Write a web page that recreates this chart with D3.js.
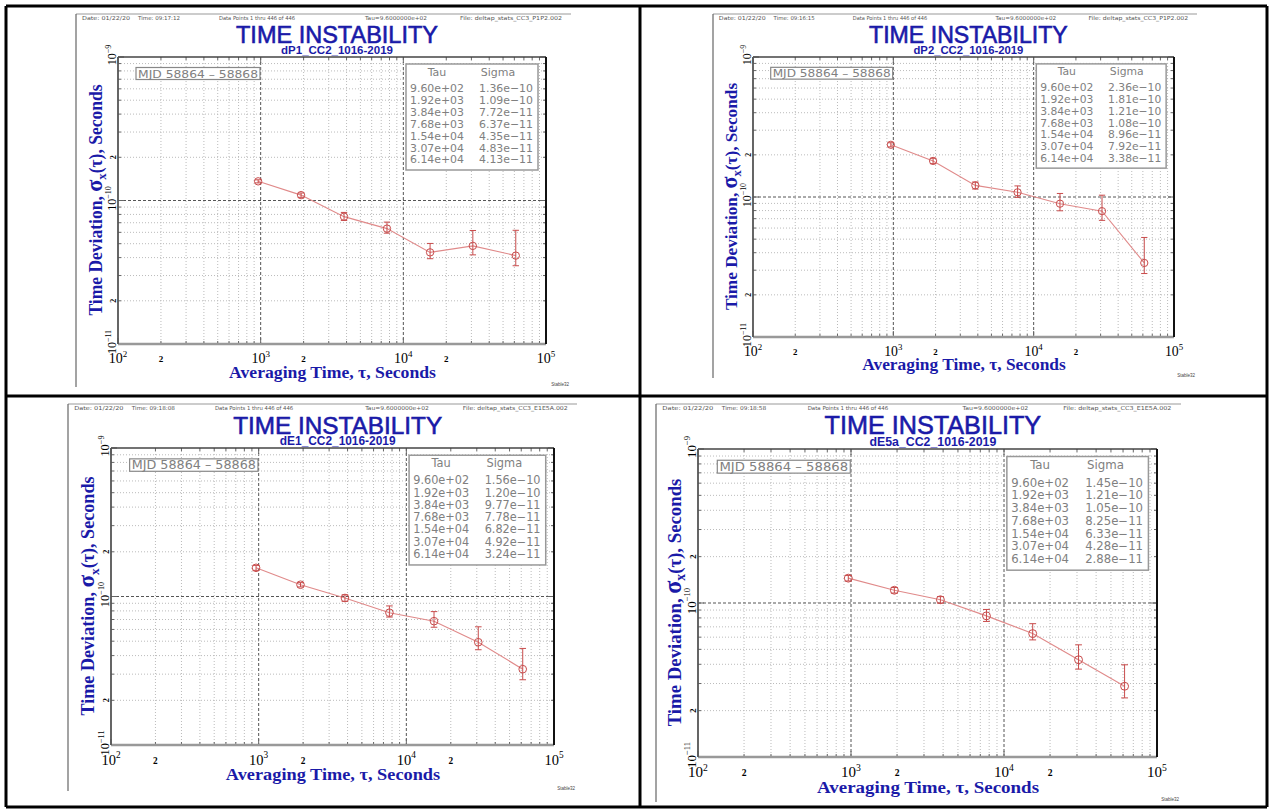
<!DOCTYPE html>
<html>
<head>
<meta charset="utf-8">
<script src="https://cdn.jsdelivr.net/npm/d3@7"></script>
<style>
  body { margin: 0; background: #fff; }
  svg { display: block; }
</style>
</head>
<body>
<svg id="chart" width="1272" height="809"></svg>
<script>
// averaging times, same for all four runs
var tau = [960, 1920, 3840, 7680, 15400, 30700, 61400];

var sigmaP1 = [1.36e-10, 1.09e-10, 7.72e-11, 6.37e-11, 4.35e-11, 4.83e-11, 4.13e-11];
var hiP1    = [1.394e-10, 1.128e-10, 8.26e-11, 7.07e-11, 5.02e-11, 6.18e-11, 6.20e-11];
var loP1    = [1.326e-10, 1.052e-10, 7.26e-11, 5.92e-11, 3.93e-11, 4.18e-11, 3.51e-11];

var sigmaP2 = [2.36e-10, 1.81e-10, 1.21e-10, 1.08e-10, 8.96e-11, 7.92e-11, 3.38e-11];
var hiP2    = [2.44e-10, 1.89e-10, 1.28e-10, 1.20e-10, 1.06e-10, 1.03e-10, 5.14e-11];
var loP2    = [2.28e-10, 1.73e-10, 1.14e-10, 9.94e-11, 7.97e-11, 6.81e-11, 2.84e-11];

var sigmaE1 = [1.56e-10, 1.20e-10, 9.77e-11, 7.78e-11, 6.82e-11, 4.92e-11, 3.24e-11];
var hiE1    = [1.62e-10, 1.24e-10, 1.026e-10, 8.64e-11, 7.91e-11, 6.25e-11, 4.47e-11];
var loE1    = [1.50e-10, 1.16e-10, 9.28e-11, 7.27e-11, 6.21e-11, 4.38e-11, 2.75e-11];

var sigmaE5 = [1.45e-10, 1.21e-10, 1.05e-10, 8.25e-11, 6.33e-11, 4.28e-11, 2.88e-11];
var hiE5    = [1.51e-10, 1.26e-10, 1.10e-10, 9.08e-11, 7.34e-11, 5.35e-11, 3.97e-11];
var loE5    = [1.39e-10, 1.16e-10, 9.98e-11, 7.59e-11, 5.76e-11, 3.72e-11, 2.42e-11];

var names = ['dP1_CC2_1016-2019', 'dP2_CC2_1016-2019', 'dE1_CC2_1016-2019', 'dE5a_CC2_1016-2019'];
var times = ['09:17:12', '09:16:15', '09:18:08', '09:18:58'];
var files = ['deltap_stats_CC3_P1P2.002', 'deltap_stats_CC3_P1P2.002', 'deltap_stats_CC3_E1E5A.002', 'deltap_stats_CC3_E1E5A.002'];

var xTickVals = [1e2, 2e2, 1e3, 2e3, 1e4, 2e4, 1e5];
var xTickText = ['10^2', '2', '10^3', '2', '10^4', '2', '10^5'];
var yTickVals = [1e-11, 2e-11, 1e-10, 2e-10, 1e-9];
var yTickText = ['10^-11', '2', '10^-10', '2', '10^-9'];

var mjdText = 'MJD 58864 \u2013 58868';

var blue = '#1a1aa8';
var red = '#c84c4c';
var serif = '"Liberation Serif", "Times New Roman", serif';
var sans = '"Liberation Sans", Arial, sans-serif';
var mono = '"DejaVu Sans", sans-serif';

// frame geometry of each screenshot in the grid
var panels = [
  { sigma: sigmaP1, hi: hiP1, lo: loP1, L: 118, R: 546, T: 57, B: 344, gx: 76, gy: 14, gr: 571, gb: 387 },
  { sigma: sigmaP2, hi: hiP2, lo: loP2, L: 753, R: 1174, T: 57, B: 337, gx: 713, gy: 14, gr: 1197, gb: 378 },
  { sigma: sigmaE1, hi: hiE1, lo: loE1, L: 111, R: 554, T: 448, B: 745, gx: 68, gy: 404, gr: 577, gb: 791 },
  { sigma: sigmaE5, hi: hiE5, lo: loE5, L: 698, R: 1157, T: 449, B: 757, gx: 656, gy: 404, gr: 1181, gb: 802 }
];

var svg = d3.select('#chart');

function isDecade(v) {
  var l = Math.log10(v);
  return Math.abs(l - Math.round(l)) < 1e-6;
}

function fmt(v) {
  return v.toExponential(2).replace(/e\+(\d)$/, 'e+0$1').replace(/e-(\d)$/, 'e-0$1').replace('-', '\u2212');
}

function powerLabel(sel, str, supSize, supDy) {
  var parts = str.split('^');
  sel.append('tspan').text(parts[0]);
  if (parts.length > 1) {
    sel.append('tspan')
      .attr('dy', supDy)
      .style('font-size', supSize + 'px')
      .text(parts[1].replace('-', '\u2212'));
  }
}

function drawPanel(p, i) {
  var k = (p.R - p.L) / 428;
  var x = d3.scaleLog().domain([1e2, 1e5]).range([p.L, p.R]);
  var y = d3.scaleLog().domain([1e-11, 1e-9]).range([p.B, p.T]);
  var g = svg.append('g');
  var W = p.gr - p.gx;
  var hk = W / 495;

  // page edges of the screenshot
  g.append('line')
    .attr('x1', p.gx).attr('x2', p.gr).attr('y1', p.gy).attr('y2', p.gy)
    .attr('stroke', '#999').attr('stroke-width', 1);
  g.append('line')
    .attr('x1', p.gx).attr('x2', p.gx).attr('y1', p.gy).attr('y2', p.gb)
    .attr('stroke', '#666').attr('stroke-width', 1.2);

  // header line: text, offset, width
  var head = [
    ['Date: 01/22/20', 6, 48],
    ['Time: ' + times[i], 62, 42],
    ['Data Points 1 thru 446 of 446', 143, 76],
    ['Tau=9.6000000e+02', 289, 62],
    ['File: ' + files[i], 384, 102]
  ];
  head.forEach(function(h) {
    g.append('text')
      .attr('x', p.gx + h[1] * hk)
      .attr('y', p.gy + 6)
      .attr('textLength', h[2] * hk).attr('lengthAdjust', 'spacingAndGlyphs')
      .style('font-family', mono)
      .style('font-size', '5.5px')
      .attr('fill', '#555')
      .text(h[0]);
  });

  g.append('text')
    .attr('x', p.gr - 2).attr('y', p.gb - 1)
    .attr('text-anchor', 'end')
    .style('font-family', sans).style('font-size', '4.5px')
    .attr('fill', '#444')
    .text('Stable32');

  // titles
  var cx = (p.L + p.R) / 2 + 5 * k;
  g.append('text')
    .attr('x', cx - 101 * k).attr('y', p.T - 14 * k)
    .attr('textLength', 202 * k).attr('lengthAdjust', 'spacingAndGlyphs')
    .style('font-family', sans).style('font-size', (24 * k) + 'px')
    .attr('fill', blue).attr('stroke', blue).attr('stroke-width', 0.6)
    .text('TIME INSTABILITY');
  g.append('text')
    .attr('x', cx).attr('y', p.T - 3 * k)
    .attr('text-anchor', 'middle')
    .style('font-family', sans).style('font-weight', 'bold').style('font-size', (11.5 * k) + 'px')
    .attr('fill', blue)
    .text(names[i]);

  // grid
  var xt = x.ticks();
  var yt = y.ticks();
  xt.forEach(function(v) {
    if (v <= 1e2 || v >= 1e5) return;
    var major = isDecade(v);
    g.append('line')
      .attr('x1', x(v)).attr('x2', x(v)).attr('y1', p.T).attr('y2', p.B)
      .attr('stroke', major ? '#555' : '#bbb')
      .attr('stroke-width', 1)
      .attr('stroke-dasharray', major ? '3,2' : '1,2');
  });
  yt.forEach(function(v) {
    if (v <= 1e-11 * 1.0001 || v >= 1e-9 * 0.9999) return;
    var major = isDecade(v);
    g.append('line')
      .attr('x1', p.L).attr('x2', p.R).attr('y1', y(v)).attr('y2', y(v))
      .attr('stroke', major ? '#555' : '#bbb')
      .attr('stroke-width', 1)
      .attr('stroke-dasharray', major ? '3,2' : '1,2');
  });

  // tick marks on the frame
  xt.forEach(function(v) {
    var len = isDecade(v) ? 6 : 3;
    g.append('line').attr('x1', x(v)).attr('x2', x(v)).attr('y1', p.B).attr('y2', p.B - len)
      .attr('stroke', '#666').attr('stroke-width', 1);
    g.append('line').attr('x1', x(v)).attr('x2', x(v)).attr('y1', p.T).attr('y2', p.T + len)
      .attr('stroke', '#666').attr('stroke-width', 1);
  });
  yt.forEach(function(v) {
    var len = isDecade(v) ? 6 : 3;
    g.append('line').attr('x1', p.L).attr('x2', p.L + len).attr('y1', y(v)).attr('y2', y(v))
      .attr('stroke', '#666').attr('stroke-width', 1);
    g.append('line').attr('x1', p.R).attr('x2', p.R - len).attr('y1', y(v)).attr('y2', y(v))
      .attr('stroke', '#666').attr('stroke-width', 1);
  });

  // frame
  g.append('line').attr('x1', p.L).attr('x2', p.R).attr('y1', p.T).attr('y2', p.T)
    .attr('stroke', '#444').attr('stroke-width', 1.3);
  g.append('line').attr('x1', p.L).attr('x2', p.R).attr('y1', p.B).attr('y2', p.B)
    .attr('stroke', '#999').attr('stroke-width', 2.5);
  g.append('line').attr('x1', p.L).attr('x2', p.L).attr('y1', p.T).attr('y2', p.B)
    .attr('stroke', '#555').attr('stroke-width', 1.8);
  g.append('line').attr('x1', p.R).attr('x2', p.R).attr('y1', p.T).attr('y2', p.B)
    .attr('stroke', '#111').attr('stroke-width', 2);

  // x tick labels
  xTickVals.forEach(function(v, j) {
    var small = xTickText[j].indexOf('^') < 0;
    var t = g.append('text')
      .attr('x', x(v)).attr('y', p.B + (small ? 18 : 19) * k)
      .attr('text-anchor', 'middle')
      .style('font-family', serif)
      .style('font-weight', small ? 'bold' : 'normal')
      .style('font-size', (small ? 9 : 14) * k + 'px')
      .attr('fill', '#000');
    powerLabel(t, xTickText[j], 9 * k, -6 * k);
  });

  // y tick labels, rotated
  yTickVals.forEach(function(v, j) {
    var small = yTickText[j].indexOf('^') < 0;
    var t = g.append('text')
      .attr('transform', 'translate(' + (p.L - 2 * k) + ',' + (y(v) - (small ? 0 : 2)) + ') rotate(-90)')
      .attr('text-anchor', 'middle')
      .style('font-family', serif)
      .style('font-weight', small ? 'bold' : 'normal')
      .style('font-size', (small ? 8 : 12) * k + 'px')
      .attr('fill', '#000');
    powerLabel(t, yTickText[j], 8 * k, -5 * k);
  });

  // axis titles
  g.append('text')
    .attr('x', (p.L + p.R) / 2 - 103 * k).attr('y', p.B + 33.5 * k)
    .attr('textLength', 207 * k).attr('lengthAdjust', 'spacingAndGlyphs')
    .style('font-family', serif).style('font-weight', 'bold').style('font-size', (16.5 * k) + 'px')
    .attr('fill', blue)
    .text('Averaging Time, \u03c4, Seconds');

  var yt2 = g.append('text')
    .attr('transform', 'translate(' + (p.L - 16 * k) + ',' + ((p.T + p.B) / 2 + 115 * k) + ') rotate(-90)')
    .attr('textLength', 231 * k).attr('lengthAdjust', 'spacingAndGlyphs')
    .style('font-family', serif).style('font-weight', 'bold').style('font-size', (18 * k) + 'px')
    .attr('fill', blue);
  yt2.append('tspan').text('Time  Deviation, ');
  yt2.append('tspan').style('font-size', (23 * k) + 'px').text('\u03c3');
  yt2.append('tspan').attr('dy', 4 * k).style('font-size', (13 * k) + 'px').text('x');
  yt2.append('tspan').attr('dy', -4 * k).text('(\u03c4),  Seconds');

  // MJD box
  g.append('rect')
    .attr('x', p.L + 18 * k).attr('y', p.T + 10.5 * k)
    .attr('width', 124 * k).attr('height', 12 * k)
    .attr('fill', '#fff').attr('stroke', '#888').attr('stroke-width', 1.2);
  g.append('text')
    .attr('x', p.L + 20 * k).attr('y', p.T + 20.5 * k)
    .attr('textLength', 120 * k).attr('lengthAdjust', 'spacingAndGlyphs')
    .style('font-family', mono).style('font-size', (11 * k) + 'px')
    .attr('fill', '#808080')
    .text(mjdText);

  // tau / sigma table
  var bx = p.R - 140 * k, by = p.T + 7 * k;
  g.append('rect')
    .attr('x', bx).attr('y', by)
    .attr('width', 132 * k).attr('height', 106 * k)
    .attr('fill', '#fff').attr('stroke', '#999').attr('stroke-width', 1.5);
  g.append('text')
    .attr('x', bx + 31 * k).attr('y', by + 11.5 * k)
    .attr('text-anchor', 'middle')
    .style('font-family', mono).style('font-size', (11 * k) + 'px')
    .attr('fill', '#808080').text('Tau');
  g.append('text')
    .attr('x', bx + 92 * k).attr('y', by + 11.5 * k)
    .attr('text-anchor', 'middle')
    .style('font-family', mono).style('font-size', (11 * k) + 'px')
    .attr('fill', '#808080').text('Sigma');
  tau.forEach(function(t, j) {
    var ry = by + (28 + j * 11.9) * k;
    g.append('text')
      .attr('x', bx + 4 * k).attr('y', ry)
      .attr('textLength', 54 * k).attr('lengthAdjust', 'spacingAndGlyphs')
      .style('font-family', mono).style('font-size', (11 * k) + 'px')
      .attr('fill', '#808080').text(fmt(t));
    g.append('text')
      .attr('x', bx + 73 * k).attr('y', ry)
      .attr('textLength', 54 * k).attr('lengthAdjust', 'spacingAndGlyphs')
      .style('font-family', mono).style('font-size', (11 * k) + 'px')
      .attr('fill', '#808080').text(fmt(p.sigma[j]));
  });

  // data
  var pts = tau.map(function(t, j) {
    return { t: t, s: p.sigma[j], hi: p.hi[j], lo: p.lo[j] };
  });
  g.append('path')
    .datum(pts)
    .attr('fill', 'none')
    .attr('stroke', '#e08a8a')
    .attr('stroke-width', 1.1)
    .attr('d', d3.line().x(function(d) { return x(d.t); }).y(function(d) { return y(d.s); }));

  var cap = 3.2 * k;
  var eb = g.selectAll('g.err').data(pts).enter().append('g').attr('class', 'err');
  eb.append('line')
    .attr('x1', function(d) { return x(d.t); }).attr('x2', function(d) { return x(d.t); })
    .attr('y1', function(d) { return y(d.hi); }).attr('y2', function(d) { return y(d.lo); })
    .attr('stroke', red).attr('stroke-width', 1);
  eb.append('line')
    .attr('x1', function(d) { return x(d.t) - cap; }).attr('x2', function(d) { return x(d.t) + cap; })
    .attr('y1', function(d) { return y(d.hi); }).attr('y2', function(d) { return y(d.hi); })
    .attr('stroke', red).attr('stroke-width', 1);
  eb.append('line')
    .attr('x1', function(d) { return x(d.t) - cap; }).attr('x2', function(d) { return x(d.t) + cap; })
    .attr('y1', function(d) { return y(d.lo); }).attr('y2', function(d) { return y(d.lo); })
    .attr('stroke', red).attr('stroke-width', 1);
  eb.append('circle')
    .attr('cx', function(d) { return x(d.t); })
    .attr('cy', function(d) { return y(d.s); })
    .attr('r', 3.7 * k)
    .attr('fill', 'none')
    .attr('stroke', red).attr('stroke-width', 1);
}

panels.forEach(drawPanel);

// table borders of the page
var borders = [
  [6, 6, 1267, 6], [6, 396, 1267, 396], [6, 807, 1267, 807],
  [6, 6, 6, 807], [640, 6, 640, 807], [1267, 6, 1267, 807]
];
borders.forEach(function(b) {
  svg.append('line')
    .attr('x1', b[0]).attr('y1', b[1]).attr('x2', b[2]).attr('y2', b[3])
    .attr('stroke', '#000').attr('stroke-width', 3);
});
</script>
</body>
</html>
